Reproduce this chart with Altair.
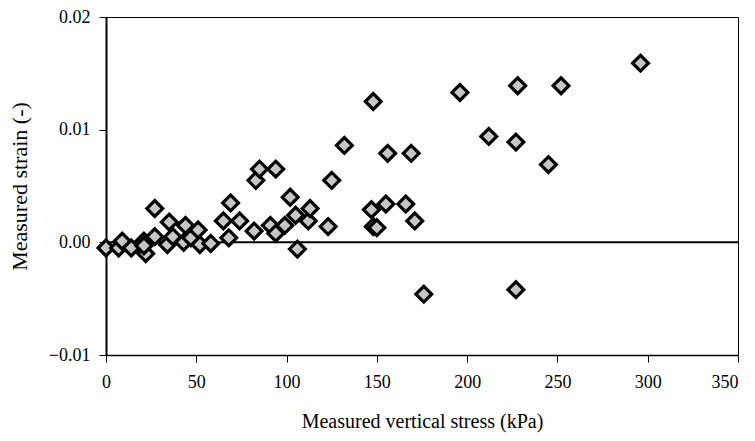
import altair as alt
import pandas as pd

stress = [0, 7, 9, 14, 21, 22, 21, 27, 27, 34, 35, 37, 43, 44, 47, 51, 52, 58,
          65, 68, 69, 74, 82, 83, 85, 91, 94, 94, 99, 102, 105, 106, 112, 113,
          123, 125, 132, 147, 148, 148, 150, 155, 156, 166, 169, 171, 176,
          196, 212, 227, 227, 228, 245, 252, 296]
strain = [-0.0005, -0.0005, 0.0001, -0.0005, 0.0001, -0.001, -0.0003, 0.0005, 0.003,
          -0.0002, 0.0018, 0.0005, 0.0, 0.0015, 0.0004, 0.0011, -0.0002, -0.0001,
          0.0019, 0.0004, 0.0035, 0.0019, 0.001, 0.0055, 0.0065, 0.0015, 0.0065,
          0.0008, 0.0015, 0.004, 0.0024, -0.0006, 0.0019, 0.003,
          0.0014, 0.0055, 0.0086, 0.0029, 0.0125, 0.0014, 0.0013, 0.0034, 0.0079,
          0.0034, 0.0079, 0.0019, -0.0046,
          0.0133, 0.0094, 0.0089, -0.0042, 0.0139, 0.0069, 0.0139, 0.0159]

x_ticks = [0, 50, 100, 150, 200, 250, 300, 350]
y_ticks = [-0.01, 0.0, 0.01, 0.02]

df = pd.DataFrame({"stress": stress, "strain": strain})
zero = pd.DataFrame({"y": [0.0]})

FONT = "Liberation Serif"

xscale = alt.Scale(domain=[0, 350], nice=False, zero=False)
yscale = alt.Scale(domain=[-0.01, 0.02], nice=False, zero=False)

points = alt.Chart(df).mark_point(
    shape="diamond", filled=True, fill="#c6c6c6", stroke="black",
    strokeWidth=3.2, size=250, opacity=1
).encode(
    x=alt.X("stress:Q", scale=xscale,
            axis=alt.Axis(values=x_ticks, title="Measured vertical stress (kPa)",
                          grid=False, tickSize=7, labelPadding=11,
                          labelAlign=alt.expr("datum.value == 350 ? 'right' : 'center'"),
                          titlePadding=20, titleFontSize=20,
                          domainColor="black", tickColor="black",
                          domainWidth=1.5)),
    y=alt.Y("strain:Q", scale=yscale,
            axis=alt.Axis(values=y_ticks, format=".2f", title="Measured strain (-)",
                          grid=False, tickSize=7, labelPadding=9,
                          titlePadding=17, titleFontSize=22,
                          domainColor="black", tickColor="black",
                          domainWidth=2)),
)

rule = alt.Chart(zero).mark_rule(color="black", strokeWidth=2).encode(
    y=alt.Y("y:Q", scale=yscale)
)

chart = alt.layer(rule, points).properties(
    width=632, height=338,
    autosize=alt.AutoSizeParams(type="none"),
    padding={"left": 98, "top": 9, "right": 9, "bottom": 78},
).configure_view(
    stroke="black", strokeWidth=1
).configure_axis(
    labelFont=FONT, titleFont=FONT, labelFontSize=18,
    labelColor="black", titleColor="black", titleFontWeight="normal",
    labelFlush=False, labelOverlap=False
)

chart.save("out.html", embed_options={"renderer": "svg", "actions": False})
